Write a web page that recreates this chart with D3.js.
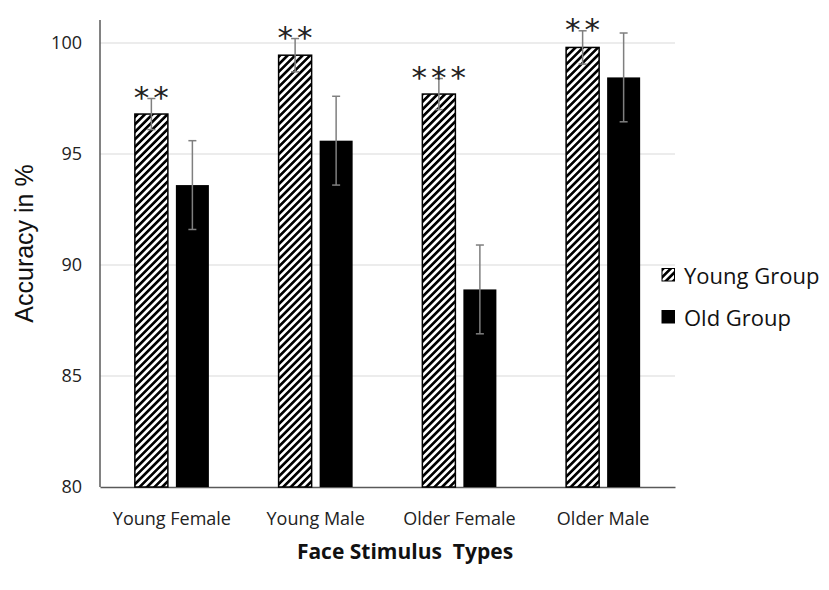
<!DOCTYPE html>
<html><head><meta charset="utf-8">
<script src="https://cdn.jsdelivr.net/npm/d3@7"></script>
<style>body{margin:0;background:#fff}</style>
</head><body>
<svg id="c" width="829" height="590"></svg>
<script>
const categories = ["Young Female", "Young Male", "Older Female", "Older Male"];
const seriesNames = ["Young Group", "Old Group"];
const youngValues = [96.8, 99.45, 97.7, 99.8];
const oldValues = [93.6, 95.6, 88.9, 98.45];
const youngErrors = [0.7, 0.75, 0.7, 0.75];
const oldErrors = [2.0, 2.0, 2.0, 2.0];
const stars = ["**", "**", "***", "**"];
const yTicks = [80, 85, 90, 95, 100];

const svg = d3.select("#c");
const m = {l: 100, r: 154, t: 20, b: 103};
const W = 829, H = 590;
const x0 = d3.scaleBand().domain(categories).range([m.l, W - m.r]).paddingInner(0).paddingOuter(0);
const x1 = d3.scaleBand().domain(seriesNames).range([0, x0.bandwidth()]).paddingInner(0.195).paddingOuter(0.85);
const y = d3.scaleLinear().domain([80, 100]).range([H - m.b, 43]);

const P = 5.3;
const defs = svg.append("defs");
const pat = defs.append("pattern").attr("id", "hatch").attr("patternUnits", "userSpaceOnUse")
  .attr("width", P).attr("height", P).attr("patternTransform", "rotate(45)");
pat.append("rect").attr("width", P).attr("height", P).attr("fill", "#fff");
pat.append("line").attr("x1", P / 4).attr("y1", 0).attr("x2", P / 4).attr("y2", P)
  .attr("stroke", "#000").attr("stroke-width", P / 2);

// gridlines
svg.append("g").selectAll("line").data(yTicks.filter(d => d > 80)).join("line")
  .attr("x1", m.l).attr("x2", W - m.r).attr("y1", d => y(d)).attr("y2", d => y(d))
  .attr("stroke", "#d9d9d9").attr("stroke-width", 1);

// y axis
const yAxis = svg.append("g").attr("transform", `translate(${m.l},0)`)
  .call(d3.axisLeft(y).tickValues(yTicks).tickSize(0).tickPadding(18));
yAxis.select(".domain").remove();
yAxis.selectAll("text").attr("font-family", "'Open Sans', sans-serif").attr("font-size", 18).attr("fill", "#222");
svg.append("line").attr("x1", m.l).attr("x2", m.l).attr("y1", 20).attr("y2", y(80))
  .attr("stroke", "#595959").attr("stroke-width", 1.5);

// x axis
const xAxis = svg.append("g").attr("transform", `translate(0,${y(80)})`)
  .call(d3.axisBottom(x0).tickSize(0).tickPadding(25));
xAxis.select(".domain").attr("stroke", "#595959").attr("stroke-width", 1.5);
xAxis.selectAll("text").attr("font-family", "'Open Sans', sans-serif").attr("font-size", 18).attr("fill", "#222");

const groups = svg.append("g").selectAll("g").data(categories).join("g")
  .attr("transform", d => `translate(${x0(d)},0)`);

groups.append("rect").attr("x", x1("Young Group")).attr("width", x1.bandwidth())
  .attr("y", (d, i) => y(youngValues[i])).attr("height", (d, i) => y(80) - y(youngValues[i]))
  .attr("fill", "url(#hatch)").attr("stroke", "#000").attr("stroke-width", 1.5);
groups.append("rect").attr("x", x1("Old Group")).attr("width", x1.bandwidth())
  .attr("y", (d, i) => y(oldValues[i])).attr("height", (d, i) => y(80) - y(oldValues[i]))
  .attr("fill", "#000");

function errBar(sel, name, vals, errs) {
  const cx = x1(name) + x1.bandwidth() / 2;
  sel.append("line").attr("x1", cx).attr("x2", cx)
    .attr("y1", (d, i) => y(vals[i] + errs[i])).attr("y2", (d, i) => y(vals[i] - errs[i]))
    .attr("stroke", "#7f7f7f").attr("stroke-width", 1.5);
  [1, -1].forEach(s => sel.append("line").attr("x1", cx - 4).attr("x2", cx + 4)
    .attr("y1", (d, i) => y(vals[i] + s * errs[i])).attr("y2", (d, i) => y(vals[i] + s * errs[i]))
    .attr("stroke", "#7f7f7f").attr("stroke-width", 1.5));
}
errBar(groups, "Young Group", youngValues, youngErrors);
errBar(groups, "Old Group", oldValues, oldErrors);

groups.append("text").attr("x", x1("Young Group") + x1.bandwidth() / 2 + 2)
  .attr("y", (d, i) => y(youngValues[i] + youngErrors[i]) + 9)
  .attr("text-anchor", "middle").attr("font-family", "'DejaVu Sans', sans-serif")
  .attr("font-size", 31).attr("letter-spacing", 4).attr("fill", "#222")
  .text((d, i) => stars[i]);

// axis titles
svg.append("text").attr("transform", `translate(33,243.5) rotate(-90)`)
  .attr("text-anchor", "middle").attr("font-family", "'Liberation Sans', Arial, sans-serif")
  .attr("font-size", 25).attr("fill", "#111").text("Accuracy in %");
svg.append("text").attr("x", 405).attr("y", 559).attr("text-anchor", "middle")
  .attr("font-family", "'Open Sans', sans-serif").attr("font-weight", "bold")
  .attr("font-size", 21).attr("fill", "#111").attr("xml:space", "preserve").text("Face Stimulus  Types");

// legend
const lg = svg.append("g").attr("transform", "translate(662,268)");
seriesNames.forEach((n, i) => {
  const g = lg.append("g").attr("transform", `translate(0,${i * 42})`);
  g.append("rect").attr("x", 0).attr("y", 0.5).attr("width", 12.5).attr("height", 12.5)
    .attr("fill", i === 0 ? "url(#hatch)" : "#000").attr("stroke", "#000").attr("stroke-width", 1);
  g.append("text").attr("x", 22).attr("y", 15.5).attr("font-family", "'Open Sans', sans-serif")
    .attr("font-size", 22).attr("fill", "#111").text(n);
});
</script>
</body></html>
